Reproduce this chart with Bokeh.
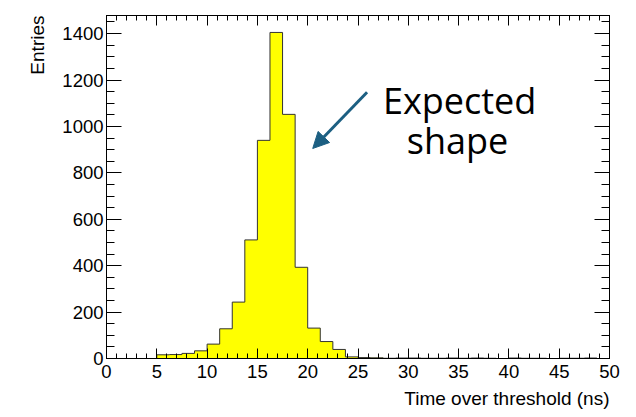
from bokeh.plotting import figure
from bokeh.models import (LinearAxis, SingleIntervalTicker, Range1d, Label,
                          Arrow, NormalHead, Title, CustomJSTickFormatter)
from bokeh.embed import file_html
from bokeh.resources import INLINE

# Time-over-threshold histogram: 40 bins of 1.25 ns between 0 and 50 ns
bin_edges = [i * 1.25 for i in range(41)]
entries = [0, 0, 0, 0, 16, 17, 22, 33,
           62, 128, 243, 511, 940, 1405, 1052, 393,
           131, 73, 39, 7, 4, 3, 1, 2,
           2, 1, 1, 2, 1, 2, 1, 0,
           2, 1, 1, 0, 1, 1, 2, 0]

x_ticks_major = 5
y_ticks_major = 200

TICK_FONT = "Liberation Sans"

p = figure(width=636, height=417, output_backend="svg", toolbar_location=None,
           x_range=Range1d(0, 50), y_range=Range1d(0, 1478),
           min_border_left=106, min_border_right=27,
           min_border_top=15, min_border_bottom=59)
p.background_fill_color = "white"
p.border_fill_color = "white"
p.outline_line_color = "black"
p.grid.visible = False

# filled histogram area, then the stepped outline on top
step_y = entries + [entries[-1]]
p.varea_step(x=bin_edges, y1=[0] * len(bin_edges), y2=step_y,
             step_mode="after", fill_color="#ffff00")
p.step(x=bin_edges, y=step_y, mode="after",
       line_color="#333333", line_width=1)

# axes with inward ticks on all four sides
def style(ax, ticker, major, minor, labels, standoff):
    ax.ticker = ticker
    ax.major_tick_in = major
    ax.major_tick_out = 0
    ax.minor_tick_in = minor
    ax.minor_tick_out = 0
    ax.axis_line_color = "black"
    ax.major_tick_line_color = "black"
    ax.minor_tick_line_color = "black"
    ax.axis_label = None
    if labels:
        ax.major_label_text_font = TICK_FONT
        ax.major_label_text_font_size = "18.5px"
        ax.major_label_text_color = "black"
        ax.major_label_standoff = standoff
    else:
        ax.formatter = CustomJSTickFormatter(code="return ''")
        ax.major_label_standoff = 0

style(p.xaxis[0], SingleIntervalTicker(interval=x_ticks_major, num_minor_ticks=5),
      10, 5, True, 6)
style(p.yaxis[0], SingleIntervalTicker(interval=y_ticks_major, num_minor_ticks=4),
      15, 8, True, 3)

top_ax = LinearAxis()
style(top_ax, SingleIntervalTicker(interval=x_ticks_major, num_minor_ticks=5),
      10, 5, False, 0)
p.add_layout(top_ax, "above")

right_ax = LinearAxis()
style(right_ax, SingleIntervalTicker(interval=y_ticks_major, num_minor_ticks=4),
      15, 8, False, 0)
p.add_layout(right_ax, "right")

# axis titles, aligned to the far end of each axis
p.add_layout(Title(text="Time over threshold (ns)", align="right",
                   text_font=TICK_FONT, text_font_size="19px",
                   text_font_style="normal", text_color="black",
                   standoff=11), "below")
p.add_layout(Title(text="Entries", align="right",
                   text_font=TICK_FONT, text_font_size="19px",
                   text_font_style="normal", text_color="black",
                   standoff=23), "left")

# annotation pointing at the peak
p.add_layout(Label(x=35.1, y=1112, text="Expected", text_align="center",
                   text_baseline="alphabetic", text_font="Open Sans",
                   text_font_size="36px", text_color="black"))
p.add_layout(Label(x=34.9, y=939, text="shape", text_align="center",
                   text_baseline="alphabetic", text_font="Open Sans",
                   text_font_size="36px", text_color="black"))
p.add_layout(Arrow(x_start=25.9, y_start=1147, x_end=20.5, y_end=905,
                   line_color="#1c5f82", line_width=3,
                   end=NormalHead(size=16, fill_color="#1c5f82",
                                  line_color="#1c5f82")))

open("out.html", "w").write(file_html(p, INLINE))
